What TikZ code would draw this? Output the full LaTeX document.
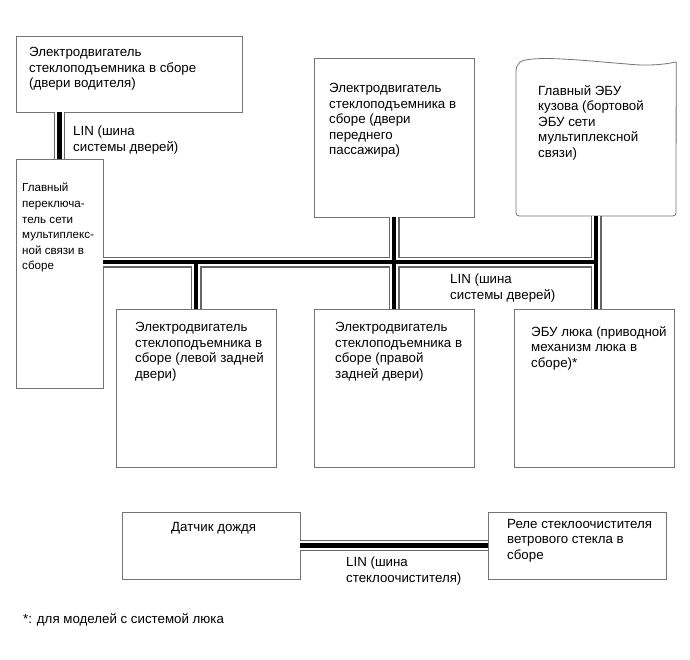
\documentclass[tikz,border=0pt]{standalone}
\usepackage{fontspec}
\setmainfont{Liberation Sans}
\begin{document}
\begin{tikzpicture}[x=1pt, y=-1pt,
  font=\fontsize{13.3}{15.6}\selectfont,
  blok/.style={draw=black!55, line width=0.8pt, fill=white, inner sep=0pt},
  tekst/.style={anchor=north west, align=left, inner sep=0pt},
  shina/.style={draw=black!60, line width=11pt,
    postaction={draw=white, line width=8.4pt},
    postaction={draw=black, line width=4.4pt}}]
  \useasboundingbox (0,0) rectangle (690,660);

  % --- блоки ---
  \node[blok, minimum width=226pt, minimum height=76pt] (drv) at (129,74) {};
  \node[blok, minimum width=87pt, minimum height=229pt] (sw) at (59.5,273.5) {};
  \node[blok, minimum width=160pt, minimum height=159pt] (pf) at (394,137.5) {};
  \node[inner sep=0pt, minimum width=160pt, minimum height=159pt] (ecu) at (596,136.5) {};
  \node[blok, minimum width=160pt, minimum height=158pt] (rl) at (196,388) {};
  \node[blok, minimum width=160pt, minimum height=158pt] (rr) at (394,388) {};
  \node[blok, minimum width=160pt, minimum height=158pt] (sr) at (594,388) {};
  \node[blok, minimum width=178pt, minimum height=67pt] (rain) at (211,545.5) {};
  \node[blok, minimum width=178pt, minimum height=67pt] (wip) at (577,545.5) {};

  % ЭБУ кузова: волнистый верх
  \draw[draw=black!55, line width=0.8pt]
    (ecu.north east) ++(0,5) -- (676,209) .. controls (676,216) .. (669,216)
    -- (523,216) .. controls (516,216) .. (516,209) -- (516,72)
    .. controls (516,63) and (520,60) .. (533,59)
    .. controls (555,57) and (600,62) .. (627,64)
    .. controls (645,66) and (662,65) .. (676,62);

  % --- шины LIN ---
  \coordinate (j1) at (196,262);
  \coordinate (j3) at (596,262);
  \draw[shina]
    (sw.north) -- (sw.north |- drv.south)
    (sw.east |- j1) -- (j3)
    (j1) -- (rl.north)
    (pf.south) -- (rr.north)
    (ecu.south) -- (ecu.south |- sr.north)
    (rain.east) -- (wip.west);

  % --- надписи ---
  \node[tekst] (t-drv) at (29,47)
    {Электродвигатель\\стеклоподъемника в сборе\\(двери водителя)};
  \node[tekst] (lin1) at (73,126) {LIN (шина\\системы дверей)};
  \node[tekst, font=\fontsize{11.6}{15.6}\selectfont] (t-sw) at (22,183)
    {Главный\\переключа-\\тель сети\\мультиплекс-\\ной связи в\\сборе};
  \node[tekst] (t-pf) at (329,83)
    {Электродвигатель\\стеклоподъемника в\\сборе (двери\\переднего\\пассажира)};
  \node[tekst] (t-ecu) at (538,85)
    {Главный ЭБУ\\кузова (бортовой\\ЭБУ сети\\мультиплексной\\связи)};
  \node[tekst] (lin2) at (450,274) {LIN (шина\\системы дверей)};
  \node[tekst] (t-rl) at (135,322)
    {Электродвигатель\\стеклоподъемника в\\сборе (левой задней\\двери)};
  \node[tekst] (t-rr) at (335,322)
    {Электродвигатель\\стеклоподъемника в\\сборе (правой\\задней двери)};
  \node[tekst] (t-sr) at (531,326)
    {ЭБУ люка (приводной\\механизм люка в\\сборе)*};
  \node[tekst] (t-rain) at (171,522) {Датчик дождя};
  \node[tekst] (t-wip) at (507,519)
    {Реле стеклоочистителя\\ветрового стекла в\\сборе};
  \node[tekst] (lin3) at (346,557) {LIN (шина\\стеклоочистителя)};
  \node[tekst] (prim) at (23,613) {*: для моделей с системой люка};
\end{tikzpicture}
\end{document}
